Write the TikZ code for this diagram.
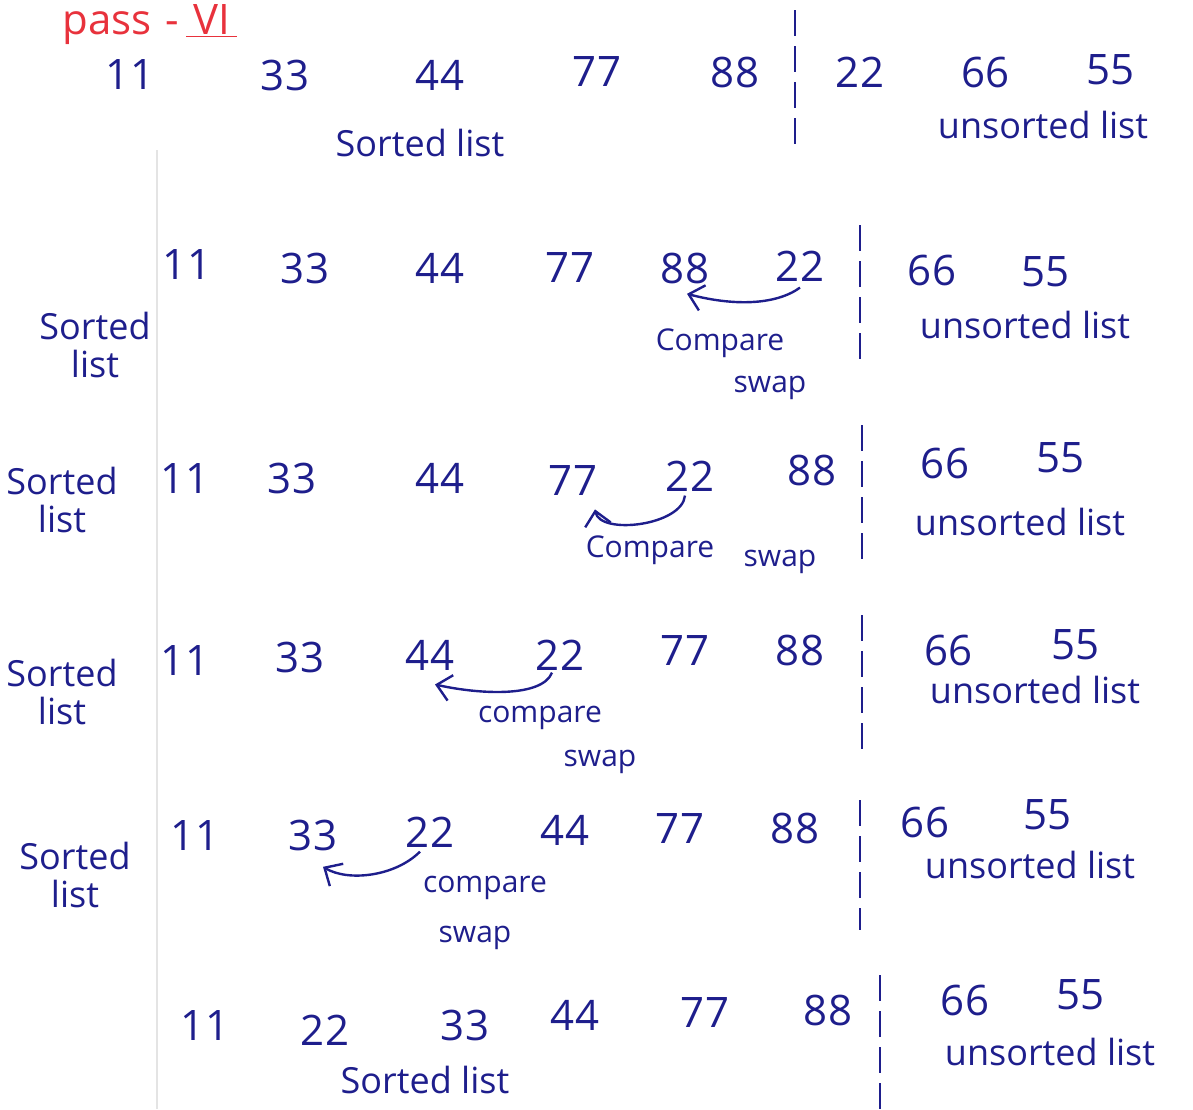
\documentclass[tikz,border=0pt]{standalone}
\usepackage{fontspec}
\setmainfont{Open Sans}
\usepackage{tikz}
\usetikzlibrary{arrows.meta,calc}
\usepackage{xcolor}
\definecolor{inkblue}{HTML}{1E1E8C}
\definecolor{inkred}{HTML}{E8323C}
\definecolor{papermargin}{HTML}{E4E4E4}

\begin{document}
\begin{tikzpicture}[
  x=0.5pt, y=-0.5pt,
  >=Stealth,
  num/.style={
    font=\fontsize{21}{24}\selectfont,
    text=inkblue,
    inner sep=1pt
  },
  listlabel/.style={
    font=\fontsize{18}{19}\selectfont,
    text=inkblue,
    align=center,
    inner sep=1pt
  },
  note/.style={
    font=\fontsize{15}{17}\selectfont,
    text=inkblue,
    inner sep=1pt
  },
  sepline/.style={
    draw=inkblue,
    line width=1.1pt,
    dash pattern=on 13pt off 5pt
  },
  swaparrow/.style={
    -{Straight Barb[length=7pt,width=13pt]},
    line width=1.2pt,
    draw=inkblue
  }
]
  \useasboundingbox (0,0) rectangle (1193,1109);

  % paper margin
  \coordinate (mtop) at (157,150);
  \coordinate (mbot) at (157,1109);
  \draw[papermargin, line width=1pt] (mtop) -- (mbot);

  % Title
  \node[anchor=base west, text=inkred, font=\fontsize{21}{24}\selectfont, inner sep=0pt] (title) at (62,34)
    {pass\,\,-\,\underline{\,VI\,}};

  % --- ROW 0: start of pass ---
  \node[num] (r0a) at (130,75) {11};
  \node[num] (r0b) at (285,75) {33};
  \node[num] (r0c) at (440,75) {44};
  \node[num] (r0d) at (597,72) {77};
  \node[num] (r0e) at (735,72) {88};
  \node[num] (r0f) at (860,72) {22};
  \node[num] (r0g) at (985,72) {66};
  \node[num] (r0h) at (1110,70) {55};
  \coordinate (s0t) at (795,10);
  \coordinate (s0b) at (795,150);
  \draw[sepline] (s0t) -- (s0b);
  \node[listlabel] (r0sorted) at (420,143) {Sorted list};
  \node[listlabel] (r0unsorted) at (1043,125) {unsorted list};

  % --- ROW 1: compare 88 and 22 ---
  \node[num] (r1a) at (187,265) {11};
  \node[num] (r1b) at (305,268) {33};
  \node[num] (r1c) at (440,268) {44};
  \node[num] (r1d) at (570,268) {77};
  \node[num] (r1e) at (685,268) {88};
  \node[num] (r1f) at (800,266) {22};
  \node[num] (r1g) at (932,270) {66};
  \node[num] (r1h) at (1045,272) {55};
  \coordinate (s1t) at (860,225);
  \coordinate (s1b) at (860,360);
  \draw[sepline] (s1t) -- (s1b);
  \node[listlabel] (r1sorted) at (95,345) {Sorted\\list};
  \node[listlabel] (r1unsorted) at (1025,325) {unsorted list};
  \draw[swaparrow] ($(r1f.south)+(0,4)$) .. controls +(-25,18) and +(45,12) .. ($(r1e.south)+(2,8)$);
  \node[note] (r1cmp) at (720,343) {Compare};
  \node[note] (r1swp) at (770,388) {swap};

  % --- ROW 2: compare 77 and 22 ---
  \node[num] (r2a) at (185,478) {11};
  \node[num] (r2b) at (292,478) {33};
  \node[num] (r2c) at (440,478) {44};
  \node[num] (r2d) at (573,480) {77};
  \node[num] (r2e) at (690,476) {22};
  \node[num] (r2f) at (812,470) {88};
  \node[num] (r2g) at (945,463) {66};
  \node[num] (r2h) at (1060,458) {55};
  \coordinate (s2t) at (862,425);
  \coordinate (s2b) at (862,565);
  \draw[sepline] (s2t) -- (s2b);
  \node[listlabel] (r2sorted) at (62,500) {Sorted\\list};
  \node[listlabel] (r2unsorted) at (1020,522) {unsorted list};
  \draw[swaparrow] ($(r2e.south)+(-5,2)$) .. controls +(-3,30) and +(5,26) .. ($(r2d.south)+(22,12)$);
  \node[note] (r2cmp) at (650,550) {Compare};
  \node[note] (r2swp) at (780,562) {swap};

  % --- ROW 3: compare 44 and 22 ---
  \node[num] (r3a) at (185,660) {11};
  \node[num] (r3b) at (300,657) {33};
  \node[num] (r3c) at (430,655) {44};
  \node[num] (r3d) at (560,655) {22};
  \node[num] (r3e) at (685,650) {77};
  \node[num] (r3f) at (800,650) {88};
  \node[num] (r3g) at (948,650) {66};
  \node[num] (r3h) at (1075,645) {55};
  \coordinate (s3t) at (862,615);
  \coordinate (s3b) at (862,750);
  \draw[sepline] (s3t) -- (s3b);
  \node[listlabel] (r3sorted) at (62,692) {Sorted\\list};
  \node[listlabel] (r3unsorted) at (1035,690) {unsorted list};
  \draw[swaparrow] ($(r3d.south)+(-8,0)$) .. controls +(-10,25) and +(45,10) .. ($(r3c.south)+(5,12)$);
  \node[note] (r3cmp) at (540,718) {compare};
  \node[note] (r3swp) at (600,762) {swap};

  % --- ROW 4: compare 33 and 22 ---
  \node[num] (r4a) at (195,835) {11};
  \node[num] (r4b) at (313,835) {33};
  \node[num] (r4c) at (430,832) {22};
  \node[num] (r4d) at (565,830) {44};
  \node[num] (r4e) at (680,828) {77};
  \node[num] (r4f) at (795,828) {88};
  \node[num] (r4g) at (925,822) {66};
  \node[num] (r4h) at (1047,815) {55};
  \coordinate (s4t) at (860,800);
  \coordinate (s4b) at (860,930);
  \draw[sepline] (s4t) -- (s4b);
  \node[listlabel] (r4sorted) at (75,875) {Sorted\\list};
  \node[listlabel] (r4unsorted) at (1030,865) {unsorted list};
  \draw[swaparrow] ($(r4c.south)+(-10,2)$) .. controls +(-25,25) and +(25,15) .. ($(r4b.south)+(10,14)$);
  \node[note] (r4cmp) at (485,888) {compare};
  \node[note] (r4swp) at (475,938) {swap};

  % --- ROW 5: end of pass ---
  \node[num] (r5a) at (205,1025) {11};
  \node[num] (r5b) at (325,1030) {22};
  \node[num] (r5c) at (465,1025) {33};
  \node[num] (r5d) at (575,1015) {44};
  \node[num] (r5e) at (705,1012) {77};
  \node[num] (r5f) at (828,1010) {88};
  \node[num] (r5g) at (965,1000) {66};
  \node[num] (r5h) at (1080,995) {55};
  \coordinate (s5t) at (880,975);
  \coordinate (s5b) at (880,1109);
  \draw[sepline] (s5t) -- (s5b);
  \node[listlabel] (r5sorted) at (425,1080) {Sorted list};
  \node[listlabel] (r5unsorted) at (1050,1052) {unsorted list};

\end{tikzpicture}
\end{document}
